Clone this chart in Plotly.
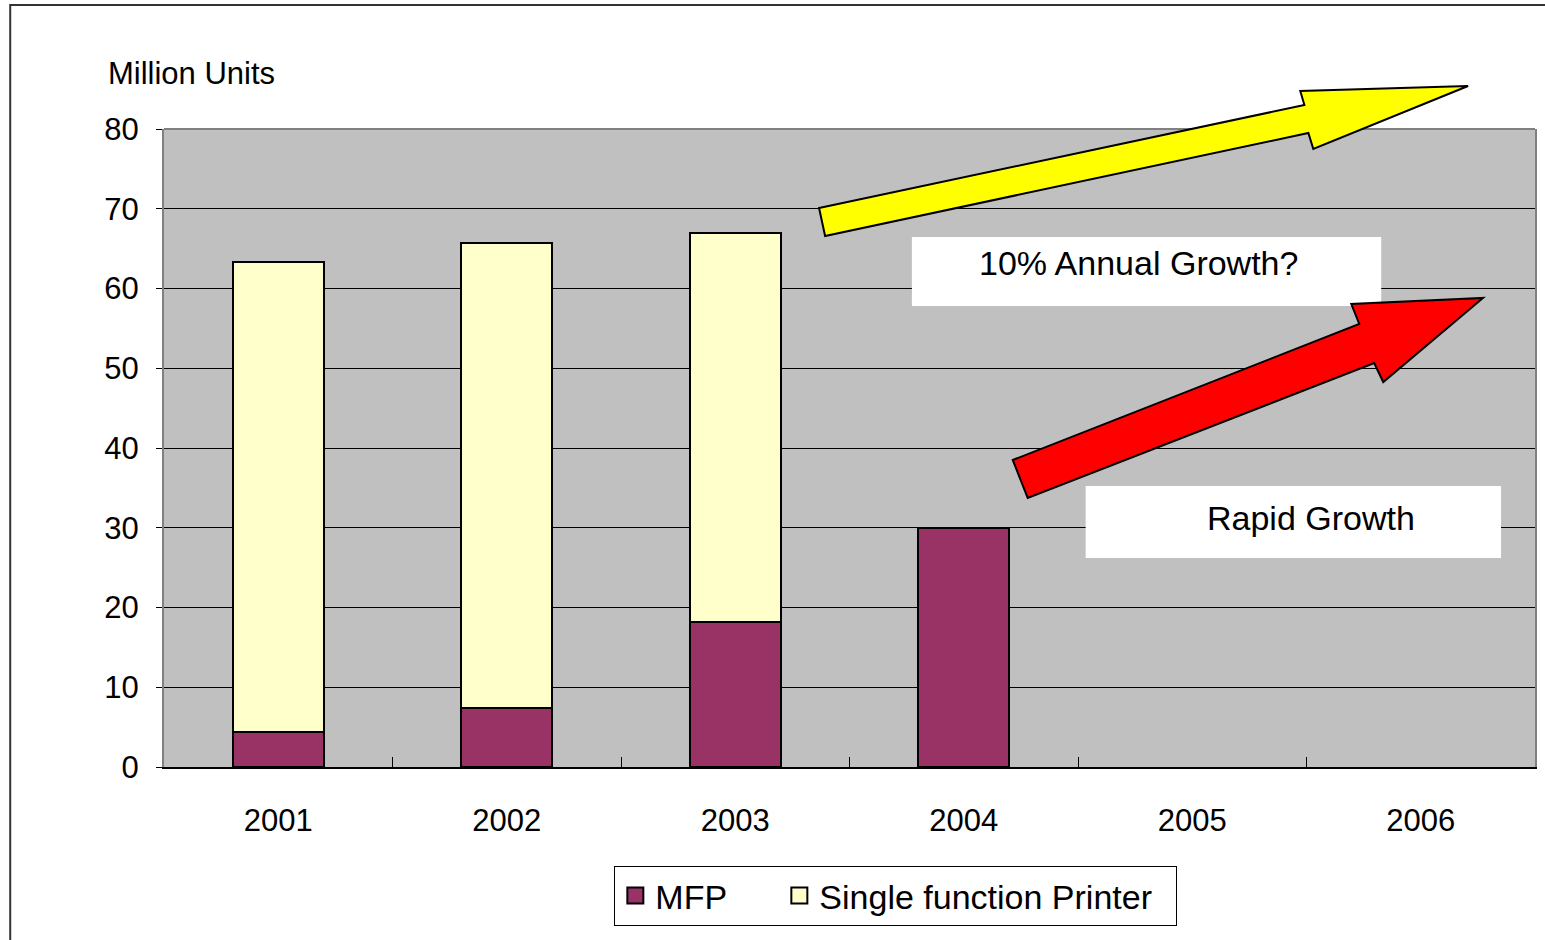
import plotly.graph_objects as go

years = ["2001", "2002", "2003", "2004", "2005", "2006"]
mfp = [4.4, 7.4, 18.2, 30.0, None, None]
single_function = [58.9, 58.3, 48.8, None, None, None]

W, H = 1545, 940
L, R, T, B = 164, 8, 129, 173
PW, PH = W - L - R, H - T - B


def to_paper(x, y):
    # screen pixel -> paper coordinates
    return (x - L) / PW, (H - B - y) / PH


def arrow_path(points):
    pts = [to_paper(x, y) for x, y in points]
    return "M " + " L ".join(f"{x:.4f},{y:.4f}" for x, y in pts) + " Z"


yellow_arrow = [(820, 208), (1306, 105), (1302, 91), (1470, 86), (1315, 149), (1310, 133), (826, 236)]
red_arrow = [(1014, 460), (1361, 324), (1353, 304), (1485, 298), (1385, 382), (1376, 363), (1029, 498)]

FONT = "Liberation Sans, Arial, sans-serif"
MFP_COLOR = "#993366"
SFP_COLOR = "#FFFFCC"
NBSP = "\u00a0"

fig = go.Figure([
    go.Bar(name="MFP", x=years, y=mfp, showlegend=False,
           marker=dict(color=MFP_COLOR, line=dict(color="black", width=2))),
    go.Bar(name="Single function Printer", x=years, y=single_function, showlegend=False,
           marker=dict(color=SFP_COLOR, line=dict(color="black", width=2))),
    # legend entries with bigger square swatches
    go.Scatter(name="MFP" + NBSP * 5, x=[None], y=[None], mode="markers",
               marker=dict(symbol="square", size=20, color=MFP_COLOR, line=dict(color="black", width=2))),
    go.Scatter(name="Single function Printer" + NBSP * 2, x=[None], y=[None], mode="markers",
               marker=dict(symbol="square", size=20, color=SFP_COLOR, line=dict(color="black", width=2))),
])

shapes = []
# outer frame of the slide
fx0, fy0 = to_paper(10, 5)
fx1, fy1 = to_paper(1600, 1000)
shapes.append(dict(type="rect", xref="paper", yref="paper", x0=fx0, y0=fy1, x1=fx1, y1=fy0,
                   line=dict(color="#333333", width=2), layer="below"))
# top border of plot area
shapes.append(dict(type="line", xref="paper", yref="paper", x0=0, x1=1, y0=1, y1=1,
                   line=dict(color="#808080", width=2)))
# white label boxes
for (x0, y0, x1, y1) in [(913, 237, 1383, 306), (1087, 486, 1503, 558)]:
    a, b = to_paper(x0, y0)
    c, d = to_paper(x1, y1)
    shapes.append(dict(type="rect", xref="paper", yref="paper", x0=a, y0=d, x1=c, y1=b,
                       fillcolor="white", line=dict(width=0)))
shapes.append(dict(type="path", xref="paper", yref="paper", path=arrow_path(yellow_arrow),
                   fillcolor="#FFFF00", line=dict(color="black", width=2)))
shapes.append(dict(type="path", xref="paper", yref="paper", path=arrow_path(red_arrow),
                   fillcolor="#FF0000", line=dict(color="black", width=2)))

annotations = []
ux, uy = to_paper(106, 74)
annotations.append(dict(text="Million Units", x=ux, y=uy, xref="paper", yref="paper",
                        xanchor="left", yanchor="middle", showarrow=False,
                        font=dict(size=31, color="black")))
ax, ay = to_paper(1140, 263)
annotations.append(dict(text="10% Annual Growth?", x=ax, y=ay, xref="paper", yref="paper",
                        xanchor="center", yanchor="middle", showarrow=False,
                        font=dict(size=34, color="black")))
bx, by = to_paper(1313, 518)
annotations.append(dict(text="Rapid Growth", x=bx, y=by, xref="paper", yref="paper",
                        xanchor="center", yanchor="middle", showarrow=False,
                        font=dict(size=34, color="black")))

lx, ly = to_paper(615, 866)
fig.update_layout(
    width=W, height=H,
    margin=dict(l=L, r=R, t=T, b=B),
    barmode="stack",
    bargap=0.6,
    plot_bgcolor="#C0C0C0",
    paper_bgcolor="white",
    font=dict(family=FONT, color="black"),
    shapes=shapes,
    annotations=annotations,
    legend=dict(orientation="h", x=lx, y=ly, xanchor="left", yanchor="top",
                bgcolor="white", bordercolor="black", borderwidth=1,
                font=dict(size=34), traceorder="normal", itemsizing="trace"),
    xaxis=dict(type="category", tickson="boundaries", ticks="inside", ticklen=10,
               tickcolor="black", showgrid=False, showline=True, linecolor="black", linewidth=2,
               tickfont=dict(size=31), ticklabelstandoff=25, fixedrange=True),
    yaxis=dict(range=[0, 80], dtick=10, ticks="outside", ticklen=6, tickcolor="black",
               showgrid=True, gridcolor="black", gridwidth=1, showline=True,
               linecolor="#808080", linewidth=2, mirror=True, zeroline=False,
               tickfont=dict(size=31), ticklabelstandoff=11, fixedrange=True),
)

# drop the default page margin so the figure sits at the top-left corner
fig.write_html("out.html", config={"displayModeBar": False},
               post_script="document.body.style.margin='0';")
